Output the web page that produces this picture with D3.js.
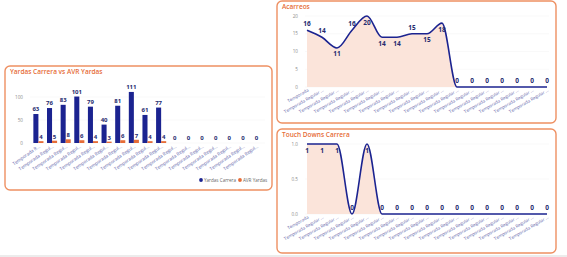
<!DOCTYPE html>
<html>
<head>
<meta charset="utf-8">
<script src="https://cdn.jsdelivr.net/npm/d3@7"></script>
<style>
  html, body { margin: 0; padding: 0; background: #fff; }
  svg { display: block; font-family: "Open Sans", "DejaVu Sans", sans-serif; }
</style>
</head>
<body>
<svg id="chart" width="567" height="257"></svg>
<script>
// data
const yardasCarrera = [63, 76, 83, 101, 79, 40, 81, 111, 61, 77, 0, 0, 0, 0, 0, 0, 0];
const avrYardas = [4, 5, 8, 6, 4, 3, 6, 7, 4, 4, 0, 0, 0, 0, 0, 0, 0];
const barLabels = ["Temporada R...", "Temporada Regul...", "Temporada Regul...", "Temporada Regul...",
  "Temporada Regul...", "Temporada Regul...", "Temporada Regul...", "Temporada Regul...",
  "Temporada Regul...", "Temporada Regul...", "Temporada Regul...", "Temporada Regul...",
  "Temporada Regul...", "Temporada Regul...", "Temporada Regul...", "Temporada Regul...",
  "Temporada Regul..."];
const barTicks = [0, 50, 100];

const acarreos = [16, 14, 11, 16, 20, 14, 14, 15, 15, 18, 0, 0, 0, 0, 0, 0, 0];
const acarreosTicks = [0, 5, 10, 15, 20];

const touchDowns = [1, 1, 1, 0, 1, 0, 0, 0, 0, 0, 0, 0, 0, 0, 0, 0, 0];
const tdTicks = [0, 0.5, 1];

const lineLabels = ["Temporada", "Temporada Regular ...", "Temporada Regular ...", "Temporada Regular ...",
  "Temporada Regular ...", "Temporada Regular ...", "Temporada Regular ...", "Temporada Regular ...",
  "Temporada Regular ...", "Temporada Regular ...", "Temporada Regular ...", "Temporada Regular ...",
  "Temporada Regular ...", "Temporada Regular ...", "Temporada Regular ...", "Temporada Regular ...",
  "Temporada Regular ..."];

// colors
const navy = "#1b2390";
const labelNavy = "#252a6e";
const orange = "#e66c37";
const border = "#ee9062";
const areaFill = "#fbe4da";
const axisGray = "#8a8a8a";
const tickBlue = "#5c62a8";

const svg = d3.select("#chart");

svg.append("rect").attr("x", 0).attr("y", 255).attr("width", 567).attr("height", 2).attr("fill", "#ececec");

function card(x, y, w, h, title) {
  svg.append("rect")
    .attr("x", x).attr("y", y).attr("width", w).attr("height", h)
    .attr("rx", 5)
    .attr("fill", "#fff")
    .attr("stroke", border)
    .attr("stroke-width", 1.4);
  svg.append("text")
    .attr("x", x + 5).attr("y", y + 8)
    .attr("font-size", 6.5)
    .attr("font-weight", 600)
    .attr("fill", orange)
    .text(title);
}

/* ---------- bar chart ---------- */
card(5, 66, 267, 124, "Yardas Carrera vs AVR Yardas");

const cats = d3.range(yardasCarrera.length);
const bx = d3.scaleBand().domain(cats).range([32, 263]).paddingInner(0.26).paddingOuter(0.1);
const bSub = d3.scaleBand().domain(["y", "a"]).range([0, bx.bandwidth()]);
const by = d3.scaleLinear().domain([0, 100]).range([143, 97]);

const barG = svg.append("g");

barG.selectAll("line.grid").data(barTicks).join("line")
  .attr("x1", 30).attr("x2", 265)
  .attr("y1", d => by(d)).attr("y2", d => by(d))
  .attr("stroke", "#f3f3f3").attr("stroke-width", 0.5);

barG.selectAll("text.ytick").data(barTicks).join("text")
  .attr("x", 23).attr("y", d => by(d) + 1.6)
  .attr("text-anchor", "end")
  .attr("font-size", 4.6)
  .attr("fill", axisGray)
  .text(d => d);

barG.selectAll("rect.yc").data(yardasCarrera).join("rect")
  .attr("x", (d, i) => bx(i) + bSub("y"))
  .attr("y", d => by(d))
  .attr("width", bSub.bandwidth())
  .attr("height", d => by(0) - by(d))
  .attr("fill", navy);

barG.selectAll("rect.av").data(avrYardas).join("rect")
  .attr("x", (d, i) => bx(i) + bSub("a"))
  .attr("y", d => by(d))
  .attr("width", bSub.bandwidth())
  .attr("height", d => by(0) - by(d))
  .attr("fill", orange);

barG.selectAll("text.ylab").data(yardasCarrera).join("text")
  .attr("x", (d, i) => d > 0 ? bx(i) + bSub("y") + bSub.bandwidth() / 2 : bx(i) + bx.bandwidth() / 2)
  .attr("y", d => by(d) - 3)
  .attr("text-anchor", "middle")
  .attr("font-size", 6)
  .attr("font-weight", 700)
  .attr("fill", labelNavy)
  .text(d => d);

barG.selectAll("text.alab").data(avrYardas.map((v, i) => ({ v, i })).filter(d => d.v > 0)).join("text")
  .attr("x", d => bx(d.i) + bSub("a") + bSub.bandwidth() / 2)
  .attr("y", d => by(d.v) - 2)
  .attr("text-anchor", "middle")
  .attr("font-size", 6)
  .attr("font-weight", 700)
  .attr("fill", labelNavy)
  .text(d => d.v);

barG.selectAll("text.xlab").data(barLabels).join("text")
  .attr("transform", (d, i) => `translate(${bx(i) + bx.bandwidth() / 2 + 2},${147}) rotate(-35)`)
  .attr("text-anchor", "end")
  .attr("font-size", 4.6)
  .attr("fill", tickBlue)
  .text(d => d);

// legend
const legend = [["Yardas Carrera", navy], ["AVR Yardas", orange]];
let lx = 201;
legend.forEach(([name, c]) => {
  svg.append("circle").attr("cx", lx).attr("cy", 180).attr("r", 1.9).attr("fill", c);
  const t = svg.append("text").attr("x", lx + 3).attr("y", 181.6)
    .attr("font-size", 4.6).attr("fill", "#666").text(name);
  lx += t.node().getComputedTextLength() + 7;
});

/* ---------- line charts ---------- */
function lineChart(values, ticks, fmt, top, plotTop, plotBottom, title, cardH) {
  card(277, top, 279, cardH, title);
  const x = d3.scalePoint().domain(d3.range(values.length)).range([307, 547]);
  const y = d3.scaleLinear().domain([0, d3.max(ticks)]).range([plotBottom, plotTop]);
  const g = svg.append("g");

  g.selectAll("line.grid").data(ticks).join("line")
    .attr("x1", 305).attr("x2", 549)
    .attr("y1", d => y(d)).attr("y2", d => y(d))
    .attr("stroke", "#f3f3f3").attr("stroke-width", 0.5);

  g.selectAll("text.ytick").data(ticks).join("text")
    .attr("x", 298).attr("y", d => y(d) + 1.6)
    .attr("text-anchor", "end")
    .attr("font-size", 4.6)
    .attr("fill", axisGray)
    .text(fmt);

  const area = d3.area().x((d, i) => x(i)).y0(y(0)).y1(d => y(d)).curve(d3.curveMonotoneX);
  const line = d3.line().x((d, i) => x(i)).y(d => y(d)).curve(d3.curveMonotoneX);

  g.append("path").datum(values).attr("d", area).attr("fill", areaFill);
  g.append("path").datum(values).attr("d", line)
    .attr("fill", "none").attr("stroke", navy).attr("stroke-width", 1.6);

  g.selectAll("text.lab").data(values).join("text")
    .attr("x", (d, i) => x(i))
    .attr("y", (d, i) => {
      const prev = i > 0 ? values[i - 1] : d;
      const next = i < values.length - 1 ? values[i + 1] : d;
      let above = d >= (prev + next) / 2;
      if (y(d) - 8 < plotTop) above = false;
      if (y(d) + 9 > plotBottom) above = true;
      return above ? y(d) - 4 : y(d) + 8.5;
    })
    .attr("text-anchor", "middle")
    .attr("font-size", 6.5)
    .attr("font-weight", 700)
    .attr("fill", labelNavy)
    .text(d => d);

  g.selectAll("text.xlab").data(lineLabels).join("text")
    .attr("transform", (d, i) => `translate(${x(i) + 2},${plotBottom + 4}) rotate(-30)`)
    .attr("text-anchor", "end")
    .attr("font-size", 4.4)
    .attr("fill", tickBlue)
    .text(d => d);
}

lineChart(acarreos, acarreosTicks, d => d, 1, 16, 87, "Acarreos", 122);
lineChart(touchDowns, tdTicks, d3.format(".1f"), 129, 144, 214, "Touch Downs Carrera", 124);
</script>
</body>
</html>
